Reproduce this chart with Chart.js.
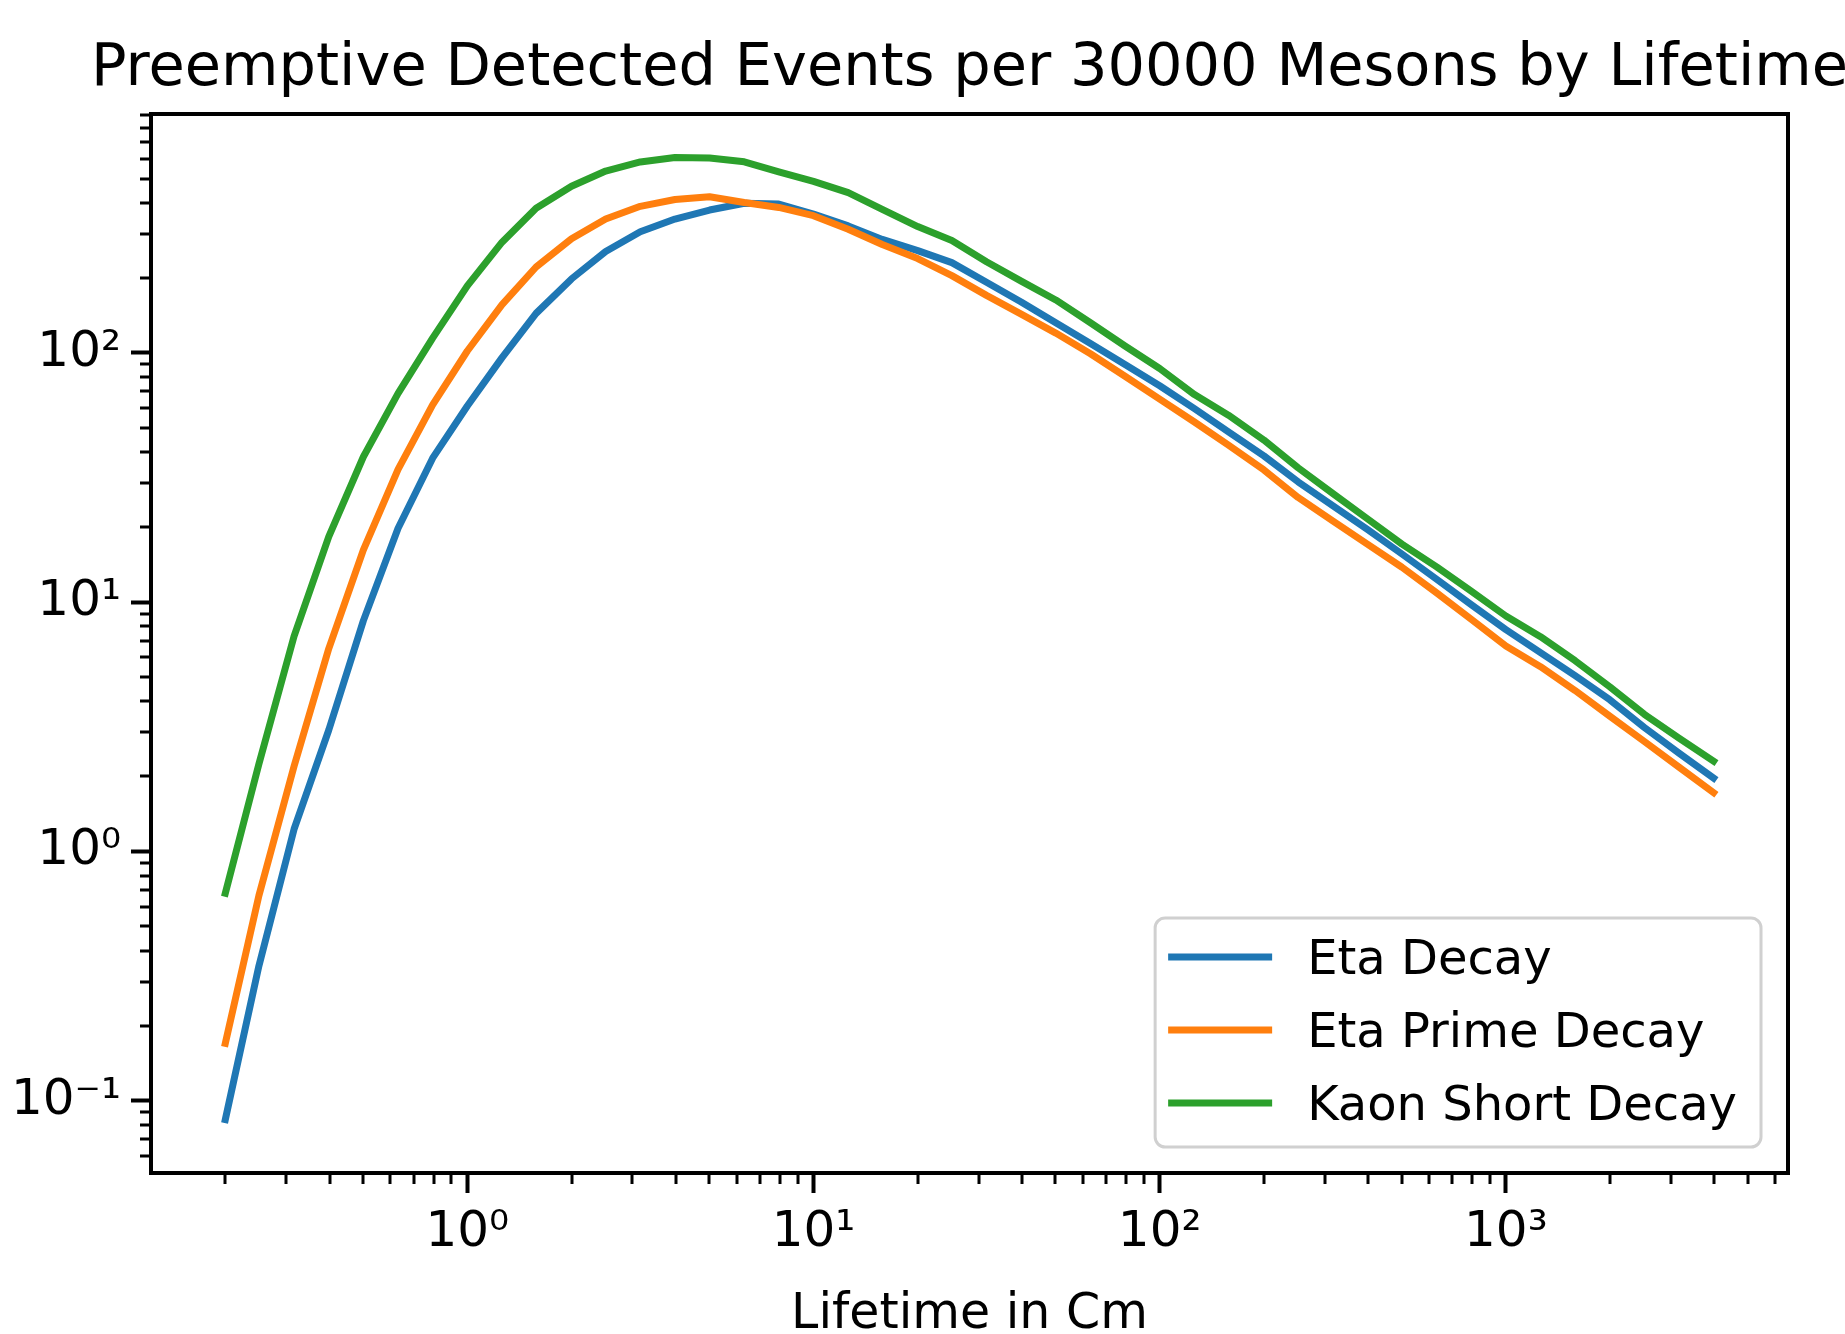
<!DOCTYPE html>
<html lang="en">
<head>
<meta charset="UTF-8">
<title>Preemptive Detected Events per 30000 Mesons by Lifetime</title>
<script src="https://cdn.jsdelivr.net/npm/chart.js@4.4.0/dist/chart.umd.min.js"></script>
<style>
    html, body {
        margin: 0;
        padding: 0;
        background: #fff;
    }
    #wrap {
        width: 1845px;
        height: 1334px;
    }
</style>
</head>
<body>
<div id="wrap"><canvas id="chart" width="1845" height="1334"></canvas></div>
<script>
// lifetime in cm (x) and detected events
const lifetimes = [0.2, 0.25, 0.316, 0.398, 0.501, 0.631, 0.794, 1, 1.26, 1.58,
    2, 2.51, 3.16, 3.98, 5.01, 6.31, 7.94, 10, 12.6, 15.8,
    20, 25.1, 31.6, 39.8, 50.1, 63.1, 79.4, 100, 126, 158,
    200, 251, 316, 398, 501, 631, 794, 1000, 1259, 1585,
    1995, 2512, 3162, 3981];
const etaDecay = [0.084, 0.347, 1.23, 3.07, 8.43, 19.8, 37.8, 61.2, 95.7, 144,
    198, 255, 306, 344, 374, 398, 395, 360, 323, 285,
    257, 230, 192, 160, 132, 109, 89.8, 73.8, 59.7, 48.2,
    38.6, 30.4, 24.4, 19.6, 15.6, 12.35, 9.77, 7.76, 6.27, 5.07,
    4.06, 3.14, 2.48, 1.97];
const etaPrimeDecay = [0.17, 0.664, 2.2, 6.51, 16.2, 34.1, 61.9, 101.7, 156, 221,
    287, 344, 387, 412, 423, 401, 383, 355, 313, 272,
    239, 204, 170, 143, 120, 99.2, 80.6, 65.2, 52.8, 42.6,
    33.9, 26.3, 21.2, 17.1, 13.8, 10.9, 8.54, 6.67, 5.51, 4.42,
    3.49, 2.76, 2.18, 1.72];
const kaonShortDecay = [0.68, 2.24, 7.31, 18.3, 38.3, 68.8, 114.6, 185.6, 278, 380,
    466, 536, 583, 608, 605, 584, 532, 487, 439, 376,
    321, 282, 232, 194, 163, 132, 106.5, 86.5, 68, 56.2,
    44.7, 34.6, 27.3, 21.6, 17.1, 13.85, 11.06, 8.8, 7.27, 5.82,
    4.58, 3.55, 2.85, 2.3];

const xTickValues = [1, 10, 100, 1000];
const xTickLabels = ['10\u2070', '10\u00B9', '10\u00B2', '10\u00B3'];
const yTickValues = [0.1, 1, 10, 100];
const yTickLabels = ['10\u207B\u00B9', '10\u2070', '10\u00B9', '10\u00B2'];
const chartTitle = 'Preemptive Detected Events per 30000 Mesons by Lifetime';

const FONT = "'DejaVu Sans', sans-serif";
Chart.defaults.font.family = FONT;
Chart.defaults.color = '#000';

function toPoints(ys) {
    return lifetimes.map((x, i) => ({x: x, y: ys[i]}));
}

function labelFor(values, labels, v) {
    const i = values.findIndex(t => Math.abs(Math.log10(t) - Math.log10(v)) < 1e-6);
    return i >= 0 ? labels[i] : '';
}

// title centred over the axes, minor ticks, axes frame and the boxed legend
const axesDecor = {
    id: 'axesDecor',
    afterDatasetsDraw(chart) {
        const ctx = chart.ctx;
        const a = chart.chartArea;
        const x = chart.scales.x;
        const y = chart.scales.y;
        ctx.save();
        ctx.strokeStyle = '#000';
        ctx.lineWidth = 3;
        ctx.beginPath();
        for (let d = -3; d <= 4; d++) {
            for (let k = 2; k <= 9; k++) {
                const v = k * Math.pow(10, d);
                if (v > x.min && v < x.max) {
                    const px = Math.round(x.getPixelForValue(v));
                    ctx.moveTo(px, a.bottom);
                    ctx.lineTo(px, a.bottom + 11);
                }
                if (v > y.min && v < y.max) {
                    const py = Math.round(y.getPixelForValue(v));
                    ctx.moveTo(a.left, py);
                    ctx.lineTo(a.left - 11, py);
                }
            }
        }
        ctx.stroke();
        ctx.lineWidth = 4;
        ctx.strokeRect(a.left, a.top, a.right - a.left, a.bottom - a.top);

        ctx.fillStyle = '#000';
        ctx.font = '59px ' + FONT;
        ctx.textAlign = 'center';
        ctx.textBaseline = 'alphabetic';
        ctx.fillText(chartTitle, (a.left + a.right) / 2, a.top - 29);
        ctx.restore();
    },
    afterDraw(chart) {
        const ctx = chart.ctx;
        const a = chart.chartArea;
        const sets = chart.data.datasets;
        const fs = 48;
        ctx.save();
        ctx.font = fs + 'px ' + FONT;
        const maxW = Math.max(...sets.map(s => ctx.measureText(s.label).width));
        const boxW = 13 + 104 + 35 + maxW + 24;
        const boxH = 229;
        const right = a.right - 27;
        const bottom = a.bottom - 26;
        const left = right - boxW;
        const top = bottom - boxH;

        ctx.beginPath();
        ctx.roundRect(left, top, boxW, boxH, 10);
        ctx.fillStyle = 'rgba(255,255,255,0.8)';
        ctx.fill();
        ctx.lineWidth = 3;
        ctx.strokeStyle = '#d0d0d0';
        ctx.stroke();

        sets.forEach((s, i) => {
            const rowY = top + 39 + i * 73;
            ctx.beginPath();
            ctx.moveTo(left + 13, rowY);
            ctx.lineTo(left + 117, rowY);
            ctx.lineWidth = 7;
            ctx.strokeStyle = s.borderColor;
            ctx.stroke();
            ctx.fillStyle = '#000';
            ctx.textBaseline = 'alphabetic';
            ctx.fillText(s.label, left + 152, rowY + 0.364 * fs);
        });
        ctx.restore();
    }
};

const ctx = document.getElementById('chart').getContext('2d');
new Chart(ctx, {
    type: 'line',
    data: {
        datasets: [
            {label: 'Eta Decay', data: toPoints(etaDecay), borderColor: '#1f77b4', order: 2},
            {label: 'Eta Prime Decay', data: toPoints(etaPrimeDecay), borderColor: '#ff7f0e', order: 1},
            {label: 'Kaon Short Decay', data: toPoints(kaonShortDecay), borderColor: '#2ca02c', order: 0}
        ]
    },
    options: {
        responsive: false,
        animation: false,
        devicePixelRatio: 1,
        layout: {padding: {left: 0, right: 57, top: 114, bottom: 0}},
        elements: {
            line: {borderWidth: 7, tension: 0, fill: false, borderCapStyle: 'square', borderJoinStyle: 'round'},
            point: {radius: 0}
        },
        plugins: {
            legend: {display: false},
            tooltip: {enabled: false},
            title: {display: false}
        },
        scales: {
            x: {
                type: 'logarithmic',
                position: 'bottom',
                bounds: 'data',
                min: 0.122,
                max: 6530,
                afterBuildTicks: s => { s.ticks = xTickValues.map(v => ({value: v})); },
                afterFit: s => { s.height = 161; },
                grid: {display: true, drawOnChartArea: false, drawTicks: true, tickLength: 20, tickWidth: 4, tickColor: '#000'},
                border: {display: false},
                ticks: {
                    autoSkip: false,
                    maxRotation: 0,
                    padding: 10,
                    color: '#000',
                    font: {size: 50},
                    callback: v => labelFor(xTickValues, xTickLabels, v)
                },
                title: {display: true, text: 'Lifetime in Cm', color: '#000', font: {size: 49, lineHeight: 0.75}, padding: {top: 0, bottom: 0}}
            },
            y: {
                type: 'logarithmic',
                position: 'left',
                bounds: 'data',
                min: 0.0513,
                max: 908,
                afterBuildTicks: s => { s.ticks = yTickValues.map(v => ({value: v})); },
                afterFit: s => { s.width = 151; },
                grid: {display: true, drawOnChartArea: false, drawTicks: true, tickLength: 20, tickWidth: 4, tickColor: '#000'},
                border: {display: false},
                ticks: {
                    autoSkip: false,
                    padding: 10,
                    color: '#000',
                    font: {size: 50},
                    callback: v => labelFor(yTickValues, yTickLabels, v)
                }
            }
        }
    },
    plugins: [axesDecor]
});
</script>
</body>
</html>
